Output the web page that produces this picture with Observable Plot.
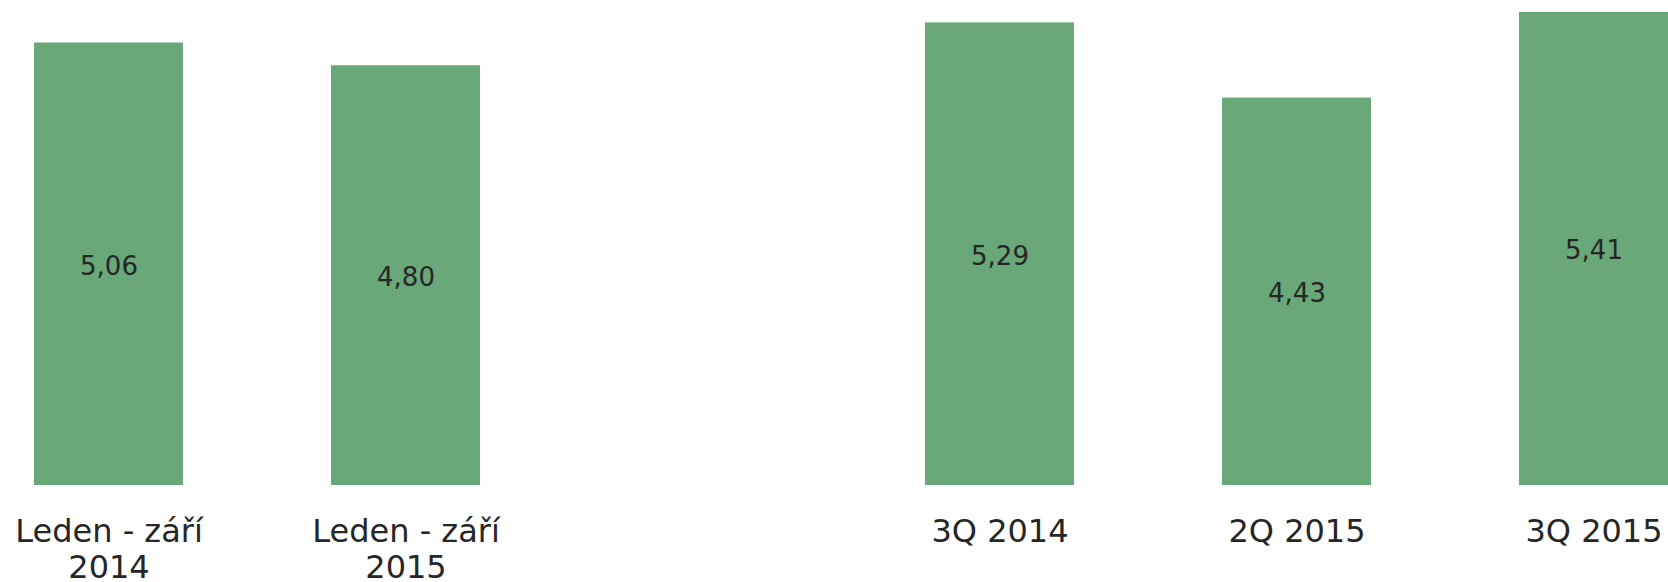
<!DOCTYPE html>
<html>
<head>
<meta charset="utf-8">
<script src="https://cdn.jsdelivr.net/npm/d3@7"></script>
<script src="https://cdn.jsdelivr.net/npm/@observablehq/plot@0.6"></script>
<style>
  html, body { margin: 0; padding: 0; background: #fff; }
  svg { display: block; }
</style>
</head>
<body>
<div id="chart"></div>
<script>
const categories = ["Leden - září\n2014", "Leden - září\n2015", "", "3Q 2014", "2Q 2015", "3Q 2015"];
const values = [5.06, 4.80, null, 5.29, 4.43, 5.41];
const valueLabels = ["5,06", "4,80", "", "5,29", "4,43", "5,41"];

const data = categories.map((c, i) => ({cat: c, value: values[i], label: valueLabels[i]}))
  .filter(d => d.value != null);

const chart = Plot.plot({
  width: 1668,
  height: 582,
  marginLeft: 34,
  marginRight: 0,
  marginTop: 0,
  marginBottom: 97,
  style: {fontFamily: "'DejaVu Sans', Verdana, sans-serif", background: "#fff"},
  x: {domain: categories, paddingInner: 0.5, paddingOuter: 0, axis: null},
  y: {domain: [0, 5.546], axis: null},
  marks: [
    Plot.barY(data, {x: "cat", y: "value", fill: "#69a878"}),
    Plot.text(data, {x: "cat", y: d => d.value / 2, text: "label", fontSize: 26, dy: 2, fill: "#262626"}),
    Plot.axisX({tickSize: 0, tickPadding: 30, fontSize: 32, lineHeight: 1.15, fill: "#262626", label: null, tickFormat: d => d})
  ]
});
document.getElementById("chart").append(chart);
</script>
</body>
</html>
